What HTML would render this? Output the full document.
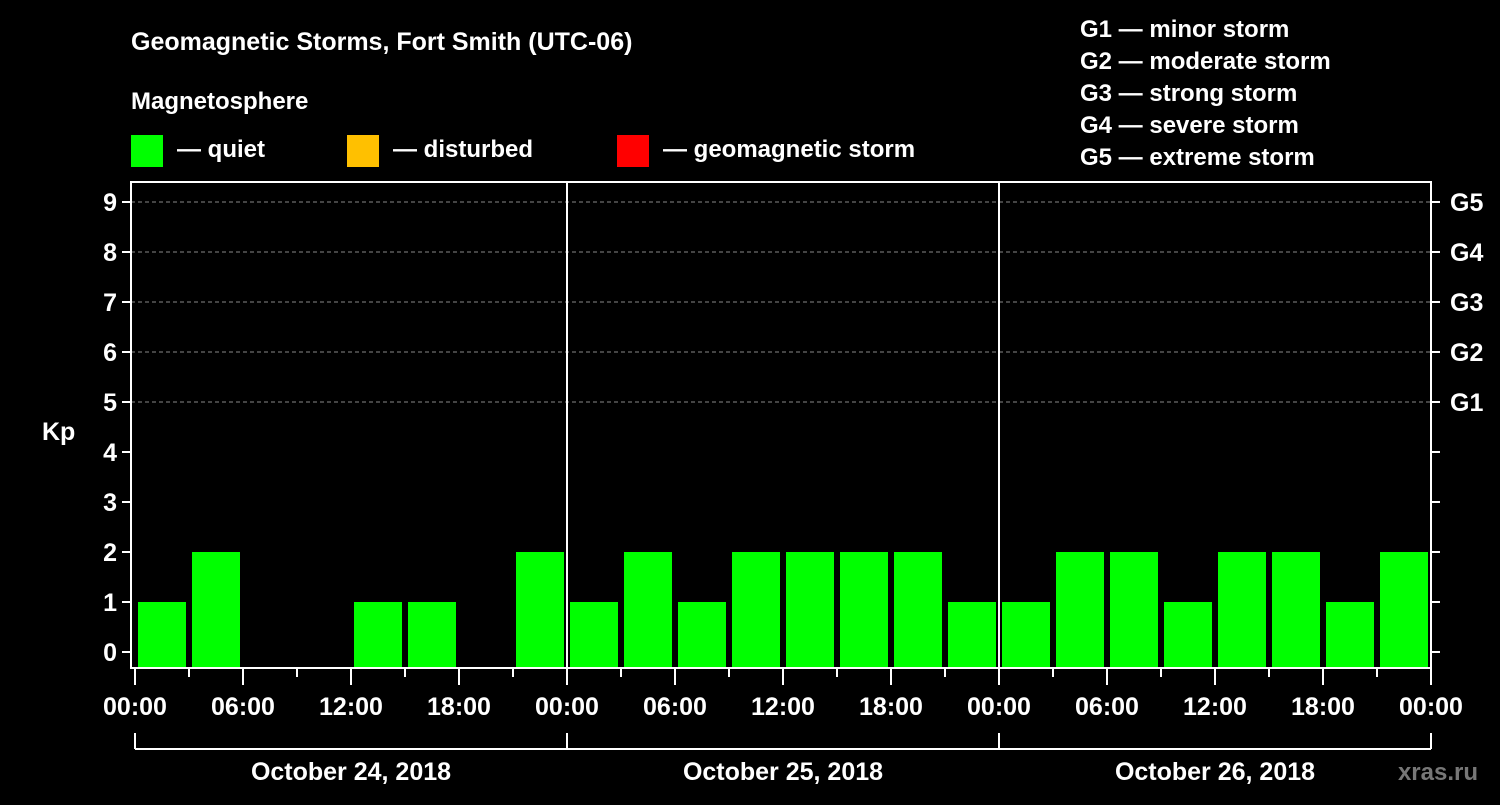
<!DOCTYPE html>
<html><head><meta charset="utf-8"><style>
body{margin:0;background:#000;width:1500px;height:800px;overflow:hidden}
text{font-family:"Liberation Sans",sans-serif;font-weight:bold;fill:#fff}
</style></head><body>
<svg id="c" width="1500" height="800" xmlns="http://www.w3.org/2000/svg">
<text x="131" y="50" font-size="25">Geomagnetic Storms, Fort Smith (UTC-06)</text>
<text x="131" y="109" font-size="24">Magnetosphere</text>
<g><rect x="131" y="135" width="32" height="32" fill="#00ff00"/><text x="177" y="157" font-size="24">— quiet</text></g>
<g><rect x="347" y="135" width="32" height="32" fill="#ffc000"/><text x="393" y="157" font-size="24">— disturbed</text></g>
<g><rect x="617" y="135" width="32" height="32" fill="#ff0000"/><text x="663" y="157" font-size="24">— geomagnetic storm</text></g>
<g font-size="24">
<text x="1080" y="37">G1 — minor storm</text><text x="1080" y="69">G2 — moderate storm</text><text x="1080" y="101">G3 — strong storm</text><text x="1080" y="133">G4 — severe storm</text><text x="1080" y="165">G5 — extreme storm</text></g>
<text x="42" y="440" font-size="25">Kp</text>
<text x="1478" y="780" font-size="24" fill="#777" style="fill:#777" text-anchor="end">xras.ru</text>
<g id="plot"></g>
</svg>
<script>
const days=["October 24, 2018","October 25, 2018","October 26, 2018"];
const kp=[1,2,0,0,1,1,0,2, 1,2,1,2,2,2,2,1, 1,2,2,1,2,2,1,2];
const yTicks=[0,1,2,3,4,5,6,7,8,9];
const gLabels=["G1","G2","G3","G4","G5"];
const hourLabels=["00:00","06:00","12:00","18:00"];
const NS="http://www.w3.org/2000/svg";
const g=document.getElementById("plot");
const X0=135,DAY=432,L=131,R=1431,T=182,B=668;
const x=h=>X0+h*DAY/24;
const y=v=>652-v*50;
function mk(t,a,p){const e=document.createElementNS(NS,t);for(const k in a)e.setAttribute(k,a[k]);(p||g).appendChild(e);return e;}
// gridlines
for(let v=5;v<=9;v++){const e=mk("line",{x1:L,x2:R,y1:y(v),y2:y(v),stroke:"#888","stroke-dasharray":"4,3","stroke-width":1});

}
// bars
kp.forEach((v,i)=>{if(v<=0)return;const c=v>=5?"#ff0000":(v>=4?"#ffc000":"#00ff00");
const e=mk("rect",{x:x(i*3)+3,y:y(v),width:48,height:B-y(v),fill:c});

});
// frame
const f=mk("rect",{x:L,y:T,width:R-L,height:B-T,fill:"none",stroke:"#fff","stroke-width":2});


for(let d=1;d<days.length;d++){const e=mk("line",{x1:x(d*24),x2:x(d*24),y1:T,y2:B,stroke:"#fff","stroke-width":2});

}
yTicks.forEach(v=>{mk("line",{x1:L-9,x2:L,y1:y(v),y2:y(v),stroke:"#fff","stroke-width":2});
mk("line",{x1:R,x2:R+9,y1:y(v),y2:y(v),stroke:"#fff","stroke-width":2});
const t=mk("text",{x:L-14,y:y(v)+9,"font-size":25,"text-anchor":"end"});t.textContent=v;

});
gLabels.forEach((s,i)=>{const t=mk("text",{x:1450,y:y(5+i)+9,"font-size":25});t.textContent=s;

});
for(let h=0;h<=days.length*24;h+=3){const major=h%6===0;
mk("line",{x1:x(h),x2:x(h),y1:B,y2:B+(major?17:9),stroke:"#fff","stroke-width":2});
if(major){const t=mk("text",{x:x(h),y:715,"font-size":25,"text-anchor":"middle"});t.textContent=hourLabels[(h/6)%4];

}}
mk("line",{x1:x(0),x2:x(days.length*24),y1:749,y2:749,stroke:"#fff","stroke-width":2});
for(let d=0;d<=days.length;d++)mk("line",{x1:x(d*24),x2:x(d*24),y1:733,y2:749,stroke:"#fff","stroke-width":2});
days.forEach((s,d)=>{const t=mk("text",{x:x(d*24+12),y:780,"font-size":25,"text-anchor":"middle"});t.textContent=s;

});
</script>
</body></html>
